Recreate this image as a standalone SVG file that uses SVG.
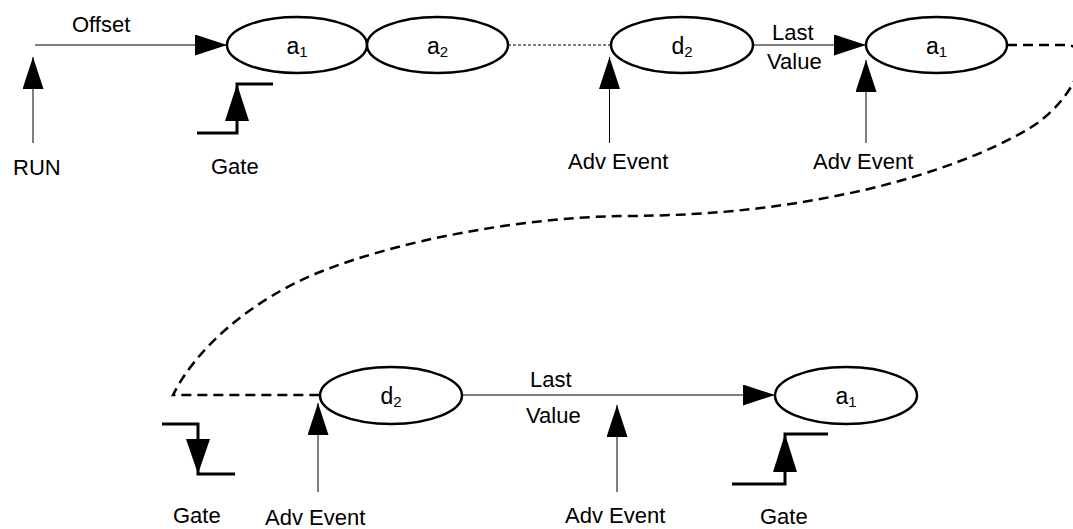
<svg xmlns="http://www.w3.org/2000/svg" width="1073" height="529" viewBox="0 0 1073 529">
<defs>
<style>
.node ellipse{fill:#fff;stroke:#000;stroke-width:2.5}
.lbl{font-family:"Liberation Sans",Arial,sans-serif;font-size:22px;fill:#000}
.nl{font-size:23px}
.sub{font-size:15px}
.ln{stroke:#000;stroke-width:1;fill:none}
.step{stroke:#000;stroke-width:3;fill:none}
.loop{stroke:#000;stroke-width:2.5;fill:none;stroke-dasharray:10,6}
.head{fill:#000}
</style>
<marker id="ah" markerUnits="userSpaceOnUse" markerWidth="32" markerHeight="21" refX="32" refY="10.5" orient="auto">
<path d="M0,0 L32,10.5 L0,21 Z" fill="#000"/>
</marker>
</defs>
<rect width="1073" height="529" fill="#fff"/>

<g id="connectors">
<line class="ln" x1="35" y1="45" x2="227" y2="45" marker-end="url(#ah)"/>
<line class="ln" x1="33" y1="143" x2="33" y2="57" marker-end="url(#ah)"/>
<line class="ln" x1="508" y1="45" x2="611" y2="45" stroke-dasharray="3,2"/>
<line class="ln" x1="609.5" y1="143" x2="609.5" y2="57" marker-end="url(#ah)"/>
<line class="ln" x1="753" y1="45" x2="866" y2="45" marker-end="url(#ah)"/>
<line class="ln" x1="866" y1="143" x2="866" y2="60" marker-end="url(#ah)"/>
<path class="loop" d="M1007,45 H1068 C1095,48 1075,100 1030,128 C990,152 930,175 860,191 C790,206 720,216 620,216 C520,218 400,240 320,272 C250,300 195,350 173,395 H320"/>
<line class="ln" x1="318" y1="492" x2="318" y2="403" marker-end="url(#ah)"/>
<line class="ln" x1="462" y1="395" x2="775" y2="395" stroke="#555" marker-end="url(#ah)"/>
<line class="ln" x1="617" y1="492" x2="617" y2="405" marker-end="url(#ah)"/>
<polyline class="step" points="197,133 237,133 237,84 273,84"/>
<path class="head" d="M237,84 L249,121 L225,121 Z"/>
<polyline class="step" points="162,424 198,424 198,474 235,474"/>
<path class="head" d="M198,474 L186,439 L210,439 Z"/>
<polyline class="step" points="732,484 785,484 785,434 828,434"/>
<path class="head" d="M785,434 L797,472 L773,472 Z"/>
</g>

<g id="labels">
<text class="lbl" x="72" y="32">Offset</text>
<text class="lbl" x="13" y="175">RUN</text>
<text class="lbl" x="211" y="174">Gate</text>
<text class="lbl" x="568" y="169">Adv Event</text>
<text class="lbl" x="772" y="40">Last</text>
<text class="lbl" x="767" y="69">Value</text>
<text class="lbl" x="813" y="169">Adv Event</text>
<text class="lbl" x="530" y="387">Last</text>
<text class="lbl" x="526" y="423">Value</text>
<text class="lbl" x="173" y="523">Gate</text>
<text class="lbl" x="265" y="525">Adv Event</text>
<text class="lbl" x="565" y="523">Adv Event</text>
<text class="lbl" x="760" y="524">Gate</text>
</g>

<g id="node-a1-top" class="node">
<ellipse cx="297" cy="45" rx="70" ry="28"/>
<text class="lbl nl" x="297" y="54" text-anchor="middle">a<tspan class="sub" dy="3">1</tspan></text>
</g>
<g id="node-a2-top" class="node">
<ellipse cx="437.5" cy="45" rx="70.5" ry="28"/>
<text class="lbl nl" x="437.5" y="54" text-anchor="middle">a<tspan class="sub" dy="3">2</tspan></text>
</g>
<g id="node-d2-top" class="node">
<ellipse cx="682" cy="45" rx="71" ry="28"/>
<text class="lbl nl" x="682" y="54" text-anchor="middle">d<tspan class="sub" dy="3">2</tspan></text>
</g>
<g id="node-a1-top2" class="node">
<ellipse cx="936.5" cy="45" rx="70.5" ry="28"/>
<text class="lbl nl" x="936.5" y="54" text-anchor="middle">a<tspan class="sub" dy="3">1</tspan></text>
</g>
<g id="node-d2-bottom" class="node">
<ellipse cx="391" cy="395.5" rx="71" ry="28.5"/>
<text class="lbl nl" x="391" y="404" text-anchor="middle">d<tspan class="sub" dy="3">2</tspan></text>
</g>
<g id="node-a1-bottom" class="node">
<ellipse cx="846" cy="395.5" rx="71" ry="28.5"/>
<text class="lbl nl" x="846" y="404" text-anchor="middle">a<tspan class="sub" dy="3">1</tspan></text>
</g>
</svg>
